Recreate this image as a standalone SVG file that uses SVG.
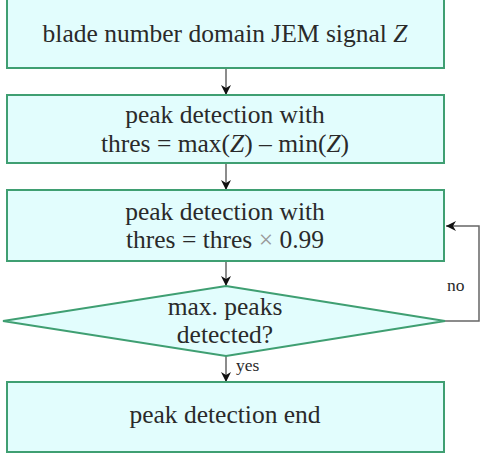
<svg xmlns="http://www.w3.org/2000/svg" width="484" height="455" viewBox="0 0 484 455">
<style>
.box{fill:#e2fdfd;stroke:#3f9f72;stroke-width:2}
.t{font-family:"Liberation Serif","Times New Roman",serif;font-size:25.5px;fill:#2a2a2a;text-anchor:middle}
.s{font-family:"Liberation Serif","Times New Roman",serif;font-size:17.5px;fill:#2a2a2a}
.c{fill:none;stroke:#666;stroke-width:1.5}
</style>
<defs>
<marker id="ah" viewBox="0 0 10 10" refX="10" refY="5" markerWidth="10" markerHeight="10" markerUnits="userSpaceOnUse" orient="auto">
<path d="M0,0 L10,5 L0,10 L3,5 Z" fill="#111"/>
</marker>
</defs>
<g id="connectors">
<line class="c" x1="226" y1="69" x2="226" y2="95" marker-end="url(#ah)"/>
<line class="c" x1="226" y1="164" x2="226" y2="190" marker-end="url(#ah)"/>
<line class="c" x1="226" y1="262" x2="226" y2="286" marker-end="url(#ah)"/>
<line class="c" x1="226" y1="356" x2="226" y2="382" marker-end="url(#ah)"/>
<polyline class="c" points="445,321 479,321 479,226 446,226" marker-end="url(#ah)"/>
<text class="s" x="236" y="371">yes</text>
<text class="s" x="447" y="291">no</text>
</g>
<g id="n1">
<rect class="box" x="7" y="-3" width="437" height="71"/>
<text class="t" x="225" y="42">blade number domain JEM signal <tspan font-style="italic">Z</tspan></text>
</g>
<g id="n2">
<rect class="box" x="7" y="95" width="437" height="68"/>
<text class="t" x="225" y="123">peak detection with</text>
<text class="t" x="225" y="152">thres = max(<tspan font-style="italic">Z</tspan>) – min(<tspan font-style="italic">Z</tspan>)</text>
</g>
<g id="n3">
<rect class="box" x="7" y="190" width="437" height="71"/>
<text class="t" x="225" y="220">peak detection with</text>
<text class="t" x="225" y="248">thres = thres <tspan fill="#999">×</tspan> 0.99</text>
</g>
<g id="n4">
<polygon class="box" points="226,286 445,321 226,356 3,321"/>
<text class="t" x="225" y="315">max. peaks</text>
<text class="t" x="225" y="343">detected?</text>
</g>
<g id="n5">
<rect class="box" x="7" y="382" width="437" height="70"/>
<text class="t" x="225" y="423">peak detection end</text>
</g>
</svg>
